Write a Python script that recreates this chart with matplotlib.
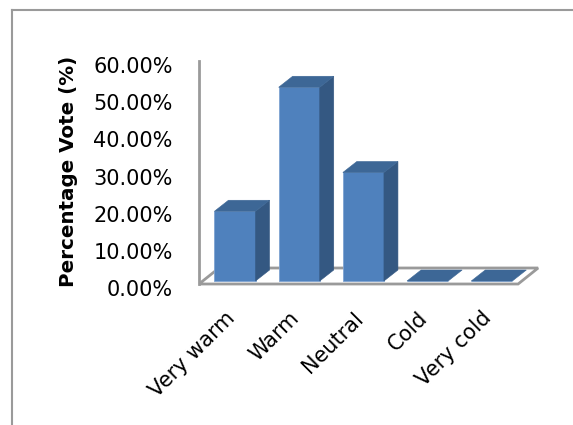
import matplotlib
matplotlib.use("Agg")
import matplotlib.pyplot as plt
from matplotlib.patches import Polygon
from matplotlib.lines import Line2D
from matplotlib.transforms import ScaledTranslation

# Survey results: thermal sensation votes
categories = ["Very warm", "Warm", "Neutral", "Cold", "Very cold"]
vote_share = [0.1875, 0.5208, 0.2917, 0.0, 0.0]
y_ticks = [0.0, 0.1, 0.2, 0.3, 0.4, 0.5, 0.6]
y_label = "Percentage Vote (%)"

# Figure geometry (pixels at dpi=100)
W, H, DPI = 573, 425, 100
PX_X = 64.2      # pixels per category step
PX_Y = 372.0     # pixels per unit of vote share
AX_L, AX_R, AX_T, AX_B = 199, 560, 40, 300
CAT0_PX = 235    # pixel centre of first category
ZERO_PX = 284    # pixel row of the floor front edge

FRONT = "#4F81BD"
SIDE = "#345882"
TOP = "#3D6796"
EDGE = "#7EA3D2"
GREY = "#9A9A9A"
FONT = "DejaVu Sans"
FS = 15

fig = plt.figure(figsize=(W / DPI, H / DPI), dpi=DPI)
ax = fig.add_axes([AX_L / W, 1 - AX_B / H, (AX_R - AX_L) / W, (AX_B - AX_T) / H])
ax.set_xlim((AX_L - CAT0_PX) / PX_X, (AX_R - CAT0_PX) / PX_X)
ax.set_ylim(-(AX_B - ZERO_PX) / PX_Y, (ZERO_PX - AX_T) / PX_Y)
ax.patch.set_visible(False)

# 3D look: depth offsets in data units
bar_w = 0.64
bar_dx, bar_dy = 14 / PX_X, 11 / PX_Y
base = 3 / PX_Y
floor_dx, floor_dy = 20 / PX_X, 16 / PX_Y
x_left = ax.get_xlim()[0]
x_right = len(categories) - 0.5 - 0.09

# floor plate
floor = Polygon([(x_left, 0), (x_right, 0), (x_right + floor_dx, floor_dy),
                 (x_left + floor_dx, floor_dy)], closed=True,
                facecolor="white", edgecolor=GREY, lw=2.0, zorder=1,
                joinstyle="miter")
ax.add_patch(floor)

# bars: front faces via ax.bar, side and top faces as offset polygons
xs = list(range(len(categories)))
ax.bar(xs, vote_share, width=bar_w, bottom=base, color=FRONT,
       edgecolor=EDGE, linewidth=0.6, zorder=3)
for x, v in zip(xs, vote_share):
    x0, x1 = x - bar_w / 2, x + bar_w / 2
    top = base + v
    if v > 0:
        ax.add_patch(Polygon([(x1, base), (x1 + bar_dx, base + bar_dy),
                              (x1 + bar_dx, top + bar_dy), (x1, top)],
                             closed=True, facecolor=SIDE, edgecolor=SIDE,
                             lw=0.4, zorder=3))
    ax.add_patch(Polygon([(x0, top), (x1, top), (x1 + bar_dx, top + bar_dy),
                          (x0 + bar_dx, top + bar_dy)], closed=True,
                         facecolor=TOP, edgecolor=TOP, lw=0.4, zorder=3))

# vertical axis
for side in ["top", "right", "bottom"]:
    ax.spines[side].set_visible(False)
ax.spines["left"].set_color(GREY)
ax.spines["left"].set_linewidth(2.0)
ax.spines["left"].set_bounds(0, y_ticks[-1])
ax.set_xticks([])
ax.set_yticks(y_ticks)
ax.set_yticklabels([f"{t * 100:.2f}%" for t in y_ticks], family=FONT,
                   fontsize=FS, color="black")
ax.tick_params(axis="y", length=0, pad=19)
shift = ScaledTranslation(0, -3 / 72, fig.dpi_scale_trans)
for lbl in ax.get_yticklabels():
    lbl.set_transform(lbl.get_transform() + shift)

# category labels, rotated
for x, name in zip(xs, categories):
    ax.text(x - 0.05, -(315 - ZERO_PX) / PX_Y, name, rotation=45,
            rotation_mode="anchor", ha="right", va="center",
            family=FONT, fontsize=FS, clip_on=False)

fig.text(68 / W, 1 - 171 / H, y_label, rotation=90, ha="center",
         va="center", family=FONT, fontsize=14.3, fontweight="bold")

# chart area border
fig.add_artist(Line2D([12 / W, 1.0], [1 - 10 / H, 1 - 10 / H],
                      color=GREY, lw=1.5, transform=fig.transFigure))
fig.add_artist(Line2D([12 / W, 12 / W], [1 - 10 / H, 0.0],
                      color=GREY, lw=1.5, transform=fig.transFigure))

fig.savefig("out.png", dpi=DPI)
